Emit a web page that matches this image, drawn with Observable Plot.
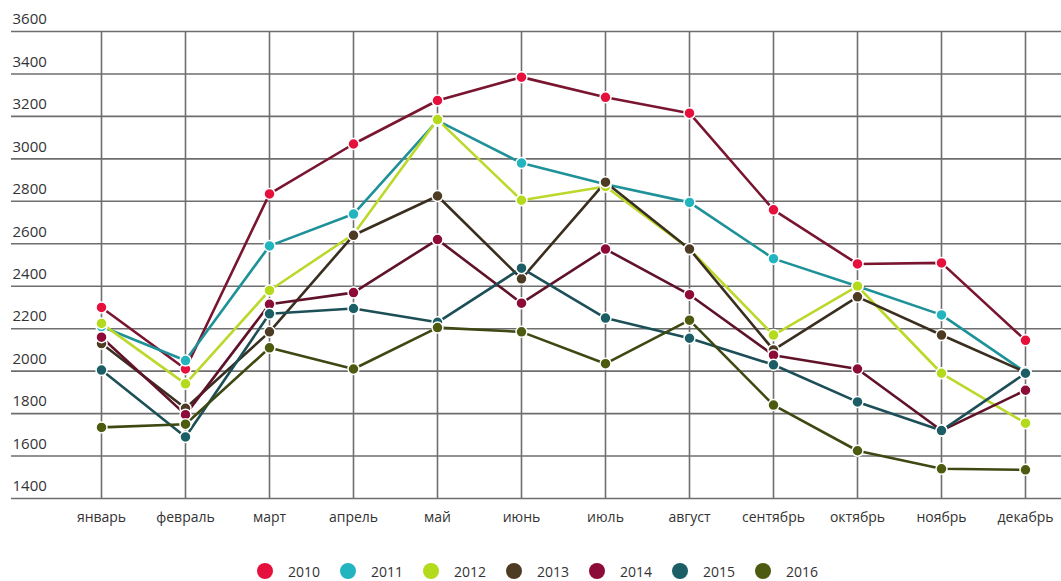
<!DOCTYPE html>
<html>
<head>
<meta charset="utf-8">
<script src="https://cdn.jsdelivr.net/npm/d3@7"></script>
<script src="https://cdn.jsdelivr.net/npm/@observablehq/plot@0.6"></script>
<style>
  body { margin: 0; background: #fff; font-family: "Open Sans", sans-serif; }
  #chart svg { display: block; }
  #legend { display: flex; justify-content: center; align-items: center; height: 36px; margin-top: 8px; padding-left: 14px; font-size: 14px; color: #333; }
  .item { display: flex; align-items: center; margin: 0 10px; }
  .sw { width: 16px; height: 16px; border-radius: 50%; margin-right: 15px; }
</style>
</head>
<body>
<div id="chart"></div>
<div id="legend"></div>
<script>
const months = ["январь","февраль","март","апрель","май","июнь","июль","август","сентябрь","октябрь","ноябрь","декабрь"];
const years = ["2010","2011","2012","2013","2014","2015","2016"];
const yTicks = [1400,1600,1800,2000,2200,2400,2600,2800,3000,3200,3400,3600];

const v2010 = [2300,2010,2835,3070,3275,3385,3290,3215,2760,2505,2510,2145];
const v2011 = [2210,2050,2590,2740,3180,2980,2880,2795,2530,2400,2265,1995];
const v2012 = [2225,1940,2380,2645,3185,2805,2870,2575,2170,2400,1990,1755];
const v2013 = [2130,1825,2185,2640,2825,2435,2890,2575,2100,2350,2170,1995];
const v2014 = [2160,1795,2315,2370,2620,2320,2575,2360,2075,2010,1720,1910];
const v2015 = [2005,1690,2270,2295,2230,2485,2250,2155,2030,1855,1720,1990];
const v2016 = [1735,1750,2110,2010,2205,2185,2035,2240,1840,1625,1540,1535];

const dotColors  = ["#e5103c","#22b5c0","#b4da1c","#4d3b24","#8c0b38","#1c5e66","#4c5b10"];
const lineColors = ["#7a1530","#1e9298","#bcd82a","#3a2e1f","#601229","#1d4f57","#3d4812"];

const seriesVals = [v2010,v2011,v2012,v2013,v2014,v2015,v2016];
const data = [];
years.forEach((y, i) => seriesVals[i].forEach((v, j) => data.push({year: y, month: months[j], value: v})));

const chart = Plot.plot({
  width: 1061,
  height: 545,
  marginLeft: 11,
  marginRight: 0,
  marginTop: 31,
  marginBottom: 47,
  style: {fontFamily: "Open Sans, sans-serif", fontSize: "14px", color: "#333", background: "#fff"},
  x: {type: "point", domain: months, range: [97, 1029], padding: 0, label: null},
  y: {domain: [1400, 3600], label: null, axis: null},
  color: {domain: years, range: lineColors},
  marks: [
    Plot.ruleY(yTicks, {stroke: "#6e6e6e", strokeWidth: 1.6}),
    Plot.ruleX(months, {stroke: "#6e6e6e", strokeWidth: 1.6}),
    Plot.text(yTicks, {y: d => d, text: d => String(d), frameAnchor: "left", textAnchor: "start", dx: 1, dy: -12, fontSize: 15, fill: "#333"}),
    Plot.axisX({tickSize: 0, tickPadding: 14, fontSize: 14, label: null}),
    Plot.line(data, {x: "month", y: "value", z: "year", stroke: "year", strokeWidth: 2.6}),
    Plot.dot(data, {x: "month", y: "value", fill: d => dotColors[years.indexOf(d.year)], r: 5.5, stroke: "#fff", strokeWidth: 1.5})
  ]
});
document.getElementById("chart").append(chart);

const legend = document.getElementById("legend");
years.forEach((y, i) => {
  const it = document.createElement("div");
  it.className = "item";
  const sw = document.createElement("span");
  sw.className = "sw";
  sw.style.background = dotColors[i];
  const t = document.createElement("span");
  t.textContent = y;
  it.append(sw, t);
  legend.append(it);
});
</script>
</body>
</html>
